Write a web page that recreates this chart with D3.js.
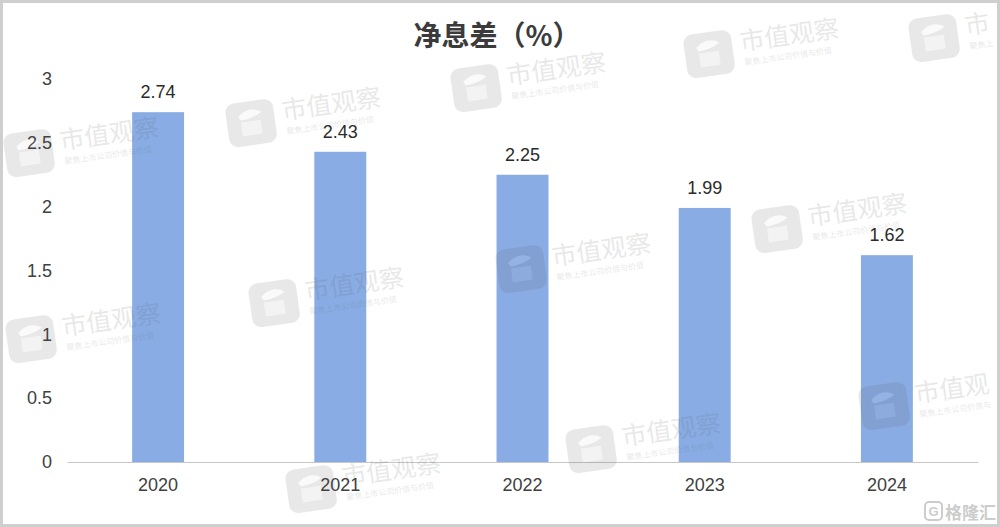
<!DOCTYPE html>
<html>
<head>
<meta charset="utf-8">
<script src="https://cdn.jsdelivr.net/npm/d3@7"></script>
<style>
  html, body { margin: 0; padding: 0; background: #fff; }
  svg { display: block; }
</style>
</head>
<body>
<svg id="chart" width="1000" height="527"></svg>
<script>
const categories = ["2020", "2021", "2022", "2023", "2024"];
const values = [2.74, 2.43, 2.25, 1.99, 1.62];
const yTicks = [0, 0.5, 1, 1.5, 2, 2.5, 3];
const title = "净息差（%）";
const watermarkText = "市值观察";
const watermarkSub = "聚焦上市公司价值与价值";
const watermarkAnchors = [
  [5,127],[227,97],[452,62],[685,28],[910,12],
  [7,313],[250,277],[497,243],[753,203],
  [287,463],[567,423],[860,380]
];

const svg = d3.select("#chart");
const W = 1000, H = 527;
const fontLatin = "'Liberation Sans', Arial, Helvetica, sans-serif";
const fontCJK = "'Noto Sans CJK SC', 'Noto Sans', sans-serif";

svg.append("rect").attr("width", W).attr("height", H).attr("fill", "#fff");

const x = d3.scaleBand().domain(categories).range([67, 978])
  .paddingInner(0.715).paddingOuter(0.3575);
const y = d3.scaleLinear().domain([0, 3]).range([462, 79]);

// title
svg.append("text").attr("x", 497).attr("y", 46).attr("text-anchor", "middle")
  .attr("font-family", fontCJK).attr("font-size", 28).attr("font-weight", "bold")
  .attr("fill", "#3b3b3b").text(title);

// y axis
const yAxis = svg.append("g").attr("transform", "translate(67,0)")
  .call(d3.axisLeft(y).tickValues(yTicks).tickSize(0).tickPadding(15).tickFormat(d3.format("")));
yAxis.select(".domain").remove();
yAxis.selectAll("text").attr("font-family", fontLatin).attr("font-size", 18)
  .attr("fill", "#404040");

// bars
svg.append("g").selectAll("rect").data(values).join("rect")
  .attr("x", (d, i) => x(categories[i]))
  .attr("y", d => y(d))
  .attr("width", x.bandwidth())
  .attr("height", d => y(0) - y(d))
  .attr("fill", "#89ace4");

// x axis line + labels
const xAxis = svg.append("g").attr("transform", `translate(0,${y(0)})`)
  .call(d3.axisBottom(x).tickSize(0).tickPadding(16).tickSizeOuter(0));
xAxis.select(".domain").attr("stroke", "#c6c6c6").attr("stroke-width", 1.2);
xAxis.selectAll("text").attr("font-family", fontLatin).attr("font-size", 18)
  .attr("fill", "#404040");

// value labels
svg.append("g").selectAll("text").data(values).join("text")
  .attr("x", (d, i) => x(categories[i]) + x.bandwidth() / 2)
  .attr("y", d => y(d) - 14)
  .attr("text-anchor", "middle")
  .attr("font-family", fontLatin).attr("font-size", 18).attr("fill", "#2b2b2b")
  .text(d => d3.format(".2f")(d));

// watermarks (texts trimmed to what fits inside the frame)
const wm = svg.append("g").attr("pointer-events", "none");
watermarkAnchors.forEach(([ax, ay]) => {
  const g = wm.append("g").attr("transform", `translate(${ax},${ay}) rotate(-8, 25, 25)`)
    .attr("opacity", 0.13);
  g.append("rect").attr("x", 0).attr("y", 4).attr("width", 48).attr("height", 44).attr("rx", 9)
    .attr("fill", "#555");
  g.append("path").attr("d", "M12,18 Q24,8 36,16 Q26,22 14,22 Z").attr("fill", "#fff").attr("opacity", 0.8);
  g.append("rect").attr("x", 14).attr("y", 24).attr("width", 20).attr("height", 14).attr("fill", "#fff").attr("opacity", 0.5);
  const room = 994 - (ax + 56);
  const nMain = Math.max(0, Math.min(watermarkText.length, Math.floor(room / 25)));
  if (nMain > 0) {
    g.append("text").attr("x", 56).attr("y", 27).attr("font-family", fontCJK).attr("font-size", 25)
      .attr("fill", "#555").text(watermarkText.slice(0, nMain));
  }
  const nSub = Math.max(0, Math.min(watermarkSub.length, Math.floor((room - 2) / 8)));
  if (nSub > 0) {
    g.append("text").attr("x", 58).attr("y", 42).attr("font-family", fontCJK).attr("font-size", 8)
      .attr("fill", "#555").text(watermarkSub.slice(0, nSub));
  }
});

// bottom-right logo
const logo = svg.append("g").attr("transform", "translate(925,501)").attr("opacity", 0.33);
logo.append("rect").attr("x", 0).attr("y", 1).attr("width", 17).attr("height", 18).attr("rx", 4)
  .attr("fill", "none").attr("stroke", "#666").attr("stroke-width", 2);
logo.append("text").attr("x", 8.5).attr("y", 15).attr("text-anchor", "middle")
  .attr("font-family", fontLatin).attr("font-weight", "bold").attr("font-size", 13).attr("fill", "#666").text("G");
logo.append("text").attr("x", 20).attr("y", 17.5).attr("font-family", fontCJK).attr("font-size", 17)
  .attr("font-weight", "bold").attr("fill", "#666").text("格隆汇");

// frame
svg.append("rect").attr("x", 1.5).attr("y", 1.5).attr("width", W - 3).attr("height", H - 3)
  .attr("fill", "none").attr("stroke", "#cfcfcf").attr("stroke-width", 3);
</script>
</body>
</html>
